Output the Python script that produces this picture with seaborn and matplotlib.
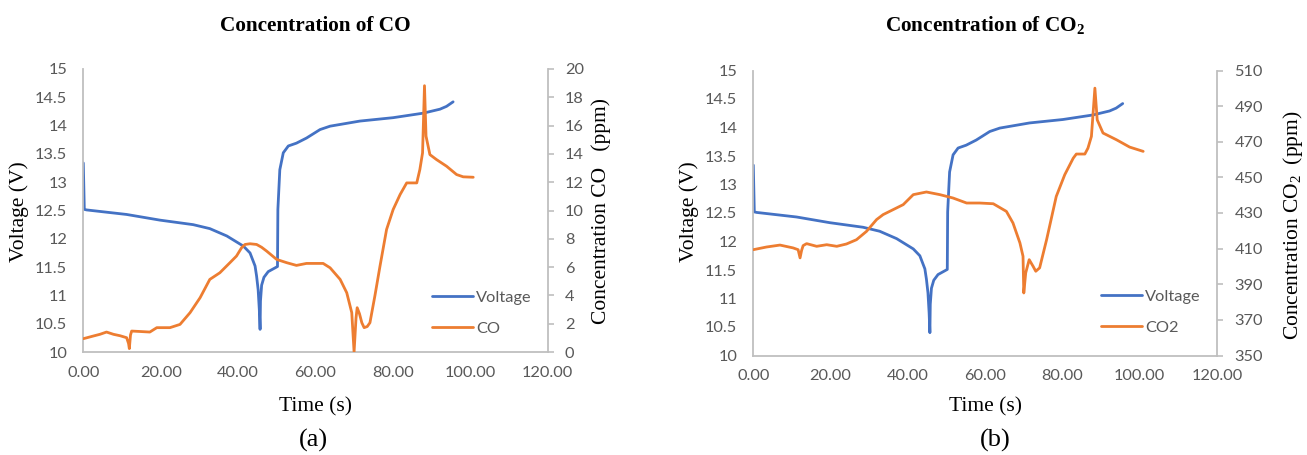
import matplotlib
matplotlib.use("Agg")
import matplotlib.pyplot as plt
import seaborn as sns

# ---------------- data ----------------
volt_t = [0, 0.26, 0.86, 11.2, 19.8, 28.4, 32.7, 37.1, 41.4, 43.1, 44.4, 44.8, 45.2,
          45.5, 45.7, 45.8, 46.1, 46.7, 47.8, 50.2, 50.3, 50.8, 51.7, 53.0, 55.1, 57.7,
          61.2, 63.8, 71.5, 80.1, 87.9, 92.2, 93.9, 95.6]
volt_v = [13.34, 12.52, 12.51, 12.43, 12.33, 12.25, 12.18, 12.05, 11.87, 11.75, 11.52,
          11.34, 11.10, 10.75, 10.40, 10.90, 11.18, 11.32, 11.42, 11.51, 12.52, 13.22,
          13.52, 13.64, 13.69, 13.78, 13.93, 13.99, 14.08, 14.14, 14.22, 14.29, 14.34, 14.42]

co_t = [0, 2.6, 4.3, 6.0, 7.8, 9.5, 11.2, 11.7, 11.9, 12.2, 12.5, 14.6, 17.2, 19.0, 22.4,
        25.0, 27.6, 30.2, 32.7, 35.3, 37.9, 39.6, 40.9, 41.8, 43.1, 44.8, 46.1, 47.4,
        50.0, 52.6, 55.1, 57.7, 62.0, 63.8, 66.4, 68.1, 69.4, 70.0, 70.5, 70.8, 71.4,
        72.0, 72.6, 73.4, 74.1, 75.4, 76.7, 78.4, 80.1, 81.9, 83.6, 86.2, 87.0, 87.7,
        88.2, 88.6, 89.6, 91.3, 93.9, 96.5, 98.2, 100.8]
co_v = [0.94, 1.13, 1.25, 1.41, 1.25, 1.15, 1.01, 0.6, 0.24, 1.2, 1.48, 1.45, 1.41, 1.72,
        1.72, 1.95, 2.78, 3.84, 5.13, 5.6, 6.31, 6.78, 7.36, 7.6, 7.65, 7.6, 7.4, 7.13,
        6.54, 6.31, 6.12, 6.26, 6.26, 5.95, 5.13, 4.19, 2.78, 0.0, 2.4, 3.13, 2.7, 2.07,
        1.72, 1.8, 2.07, 4.0, 6.07, 8.66, 10.07, 11.13, 11.95, 11.95, 12.89, 14.07, 18.82,
        15.25, 13.95, 13.6, 13.13, 12.54, 12.38, 12.35]

co2_t = [0, 3.4, 6.9, 10.3, 11.6, 12.1, 12.5, 12.9, 13.8, 16.4, 19.0, 21.6, 24.1, 26.7,
         29.3, 31.9, 33.6, 36.2, 38.8, 41.4, 44.8, 48.3, 51.7, 55.2, 58.6, 62.1, 65.5,
         67.2, 69.0, 69.8, 70.0, 70.5, 71.4, 72.4, 73.1, 74.1, 75.9, 78.4, 80.6, 82.8,
         83.6, 85.8, 86.6, 87.5, 88.4, 89.0, 90.5, 94.0, 97.4, 100.9]
co2_v = [409.4, 410.9, 412.0, 410.4, 409.4, 404.8, 409.0, 411.7, 412.8, 411.3, 412.2,
         411.3, 412.6, 415.0, 419.7, 426.3, 429.1, 431.9, 434.7, 440.3, 441.8, 440.3,
         438.4, 435.6, 435.6, 435.2, 430.9, 424.4, 413.2, 405.7, 385.1, 396.4, 403.8,
         400.1, 397.3, 399.2, 415.0, 439.3, 451.5, 460.8, 463.1, 463.1, 466.4, 473.0,
         500.1, 482.3, 474.9, 471.1, 467.0, 464.6]

x_ticks = [0, 20, 40, 60, 80, 100, 120]
x_labels = ["0.00", "20.00", "40.00", "60.00", "80.00", "100.00", "120.00"]
v_ticks = [10, 10.5, 11, 11.5, 12, 12.5, 13, 13.5, 14, 14.5, 15]
v_labels = ["10", "10.5", "11", "11.5", "12", "12.5", "13", "13.5", "14", "14.5", "15"]
co_ticks = [0, 2, 4, 6, 8, 10, 12, 14, 16, 18, 20]
co2_ticks = [350, 370, 390, 410, 430, 450, 470, 490, 510]

# ---------------- style ----------------
sns.set_theme(style="white")
plt.rcParams["font.family"] = ["Lato", "DejaVu Sans"]
plt.rcParams["mathtext.fontset"] = "custom"
plt.rcParams["mathtext.rm"] = "Liberation Serif"
plt.rcParams["mathtext.it"] = "Liberation Serif:italic"
plt.rcParams["mathtext.bf"] = "Liberation Serif:bold"

BLUE = "#4472C4"
ORANGE = "#ED7D31"
GRID = "#BFBFBF"
TICKC = "#595959"
SERIF = "Liberation Serif"
W, H = 1307, 455

fig = plt.figure(figsize=(W / 100, H / 100), dpi=100)


def panel(rect, ct, cv, cname, cticks, clabel, title, leg_xy, pos):
    ax = fig.add_axes(rect)
    ax2 = ax.twinx()
    sns.lineplot(x=volt_t, y=volt_v, ax=ax, color=BLUE, lw=2.0, label="Voltage",
                 sort=False, estimator=None)
    sns.lineplot(x=ct, y=cv, ax=ax2, color=ORANGE, lw=2.0, label=cname,
                 sort=False, estimator=None)
    ax.set_xlim(0, 120)
    ax.set_ylim(10, 15)
    ax2.set_ylim(cticks[0], cticks[-1])
    ax.set_xticks(x_ticks, x_labels)
    ax.set_yticks(v_ticks, v_labels)
    ax2.set_yticks(cticks, [str(c) for c in cticks])
    ax.set_xlabel("")
    ax.set_ylabel("")
    ax2.set_ylabel("")
    for a in (ax, ax2):
        for s in a.spines.values():
            s.set_visible(False)
            s.set_color(GRID)
            s.set_linewidth(1.3)
    ax.spines["left"].set_visible(True)
    ax.spines["bottom"].set_visible(True)
    ax2.spines["right"].set_visible(True)
    ax.tick_params(axis="y", length=0, pad=11.5, labelsize=11.8, labelcolor=TICKC)
    ax.tick_params(axis="x", length=0, pad=10, labelsize=11.8, labelcolor=TICKC)
    ax2.tick_params(axis="y", length=4, width=1.2, color=GRID, direction="out",
                    pad=8.5, labelsize=11.8, labelcolor=TICKC)
    h1, l1 = ax.get_legend_handles_labels()
    h2, l2 = ax2.get_legend_handles_labels()
    if ax.get_legend():
        ax.get_legend().remove()
    if ax2.get_legend():
        ax2.get_legend().remove()
    ax2.legend(h1 + h2, l1 + l2, loc="center left", bbox_to_anchor=leg_xy,
               frameon=False, borderpad=0, borderaxespad=0, handlelength=2.5,
               handletextpad=0.2, labelspacing=1.0, fontsize=11.8,
               labelcolor=TICKC)
    cx = (rect[0] + rect[2] / 2)
    fig.text(cx, 1 - 31 / H, title, ha="center", va="baseline", family=SERIF,
             fontsize=15.3, fontweight="bold", color="black")
    fig.text(cx, 1 - 411 / H, "Time (s)", ha="center", va="baseline", family=SERIF,
             fontsize=15.5, color="black")
    lx, rx, ry, tagx, tag = pos
    fig.text(lx / W, 1 - 212 / H, "Voltage (V)", ha="center", va="center",
             rotation=90, family=SERIF, fontsize=15.5, color="black")
    fig.text(rx / W, 1 - ry / H, clabel, ha="center", va="center",
             rotation=90, family=SERIF, fontsize=15.5, color="black")
    fig.text(tagx / W, 1 - 447 / H, tag, ha="center", va="baseline",
             family=SERIF, fontsize=19, color="black")
    return ax, ax2


panel([83.3 / W, 1 - 352 / H, 464.2 / W, 283 / H], co_t, co_v, "CO", co_ticks,
      "Concentration CO   (ppm)", "Concentration of CO", (0.751, 0.138),
      (19, 601, 211, 313, "(a)"))
panel([753.3 / W, 1 - 355.5 / H, 463.7 / W, 285 / H], co2_t, co2_v, "CO2", co2_ticks,
      r"Concentration CO$_2$  (ppm)", r"Concentration of CO$_\mathbf{2}$", (0.749, 0.152),
      (689, 1293, 225, 995, "(b)"))

fig.savefig("out.png", dpi=100)
